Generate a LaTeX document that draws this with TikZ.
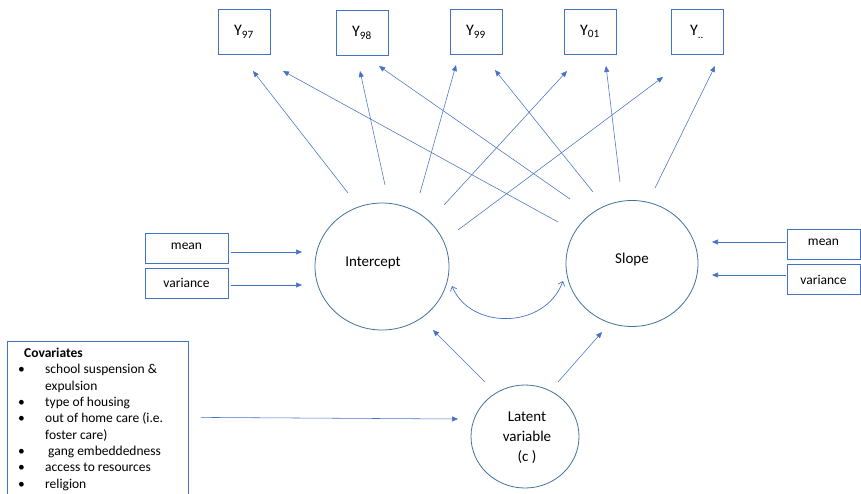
\documentclass[tikz,border=0pt]{standalone}
\usepackage{fontspec}
\setmainfont{Carlito}
\usetikzlibrary{arrows.meta,shapes.geometric}
\definecolor{lineblue}{HTML}{4472C4}
\definecolor{circblue}{HTML}{41719C}
\newcommand{\covbul}{\hspace*{3pt}\makebox[27pt][l]{\textbullet}}
\begin{document}
\begin{tikzpicture}[x=1pt,y=-1pt,
  ybox/.style={draw=lineblue,line width=0.8pt,minimum width=52pt,minimum height=45pt,inner sep=0pt,font=\fontsize{16}{18}\selectfont},
  sbox/.style={draw=lineblue,line width=0.8pt,minimum height=30pt,inner sep=0pt,font=\fontsize{13.5}{16}\selectfont},
  latent/.style={draw=circblue,line width=0.8pt,ellipse,inner sep=0pt},
  ctext/.style={font=\fontsize{15}{20}\selectfont,align=center,inner sep=0pt},
  arr/.style={draw=lineblue,line width=0.55pt,-{Triangle[length=6pt,width=5pt]}},
  dblarr/.style={draw=lineblue,line width=0.7pt,{Straight Barb[length=4pt,width=7pt]}-{Straight Barb[length=4pt,width=7pt]}},
  covstyle/.style={draw=lineblue,line width=0.8pt,inner sep=0pt,minimum width=181pt,minimum height=170pt,anchor=north west}
]
\useasboundingbox (0,0) rectangle (861,493);
\clip (0,0) rectangle (861,493);

% observed indicators
\node[ybox] (Y97) at (244,32) {Y\textsubscript{97}};
\node[ybox] (Y98) at (362,33) {Y\textsubscript{98}};
\node[ybox] (Y99) at (476,32) {Y\textsubscript{99}};
\node[ybox] (Y01) at (590,31.5) {Y\textsubscript{01}};
\node[ybox] (Ydd) at (697,32) {Y\textsubscript{..}};

% growth factors
\node[latent,minimum width=134pt,minimum height=127pt] (I) at (382,266.5) {};
\node[ctext] (Itext) at (373,263) {Intercept};
\node[latent,minimum width=132pt,minimum height=126pt] (S) at (632,263.5) {};
\node[ctext] (Stext) at (632,259) {Slope};
\node[latent,minimum width=108pt,minimum height=103pt] (L) at (525,436.5) {};
\node[ctext] (Ltext) at (527,438) {Latent\\variable\\(c )};

% mean / variance boxes
\node[sbox,minimum width=83pt] (mL) at (186.5,248) {\raisebox{4pt}{mean}};
\node[sbox,minimum width=83pt] (vL) at (186.5,283.5) {\raisebox{2pt}{variance}};
\node[sbox,minimum width=73pt] (mR) at (823.5,244) {\raisebox{3pt}{mean}};
\node[sbox,minimum width=73pt] (vR) at (823.5,279.5) {variance};

% covariates
\node[covstyle] (cov) at (7,341) {};
\node[anchor=north west,inner sep=0pt,align=left,font=\fontsize{13.5}{16.3}\selectfont] (covtext) at (15,348) {%
\hspace*{9pt}\textbf{Covariates}\\
\covbul school suspension \&\\
\hspace*{30pt}expulsion\\
\covbul type of housing\\
\covbul out of home care (i.e.\\
\hspace*{30pt}foster care)\\
\covbul\hspace*{3pt}gang embeddedness\\
\covbul access to resources\\
\covbul religion};

% intercept loadings
\draw[arr] ([shift={(-34,-73.5)}]I.center) -- ([shift={(9,39)}]Y97.center);
\draw[arr] ([shift={(3,-81.5)}]I.center) -- ([shift={(-2,38)}]Y98.center);
\draw[arr] ([shift={(38,-73.5)}]I.center) -- ([shift={(-20,33)}]Y99.center);
\draw[arr] ([shift={(62,-61.5)}]I.center) -- ([shift={(-23,39.5)}]Y01.center);
\draw[arr] ([shift={(76,-36.5)}]I.center) -- ([shift={(-34,45)}]Ydd.center);

% slope loadings
\draw[arr] ([shift={(-74,-41.5)}]S.center) -- ([shift={(39,39)}]Y97.center);
\draw[arr] ([shift={(-62,-64.5)}]S.center) -- ([shift={(17,33)}]Y98.center);
\draw[arr] ([shift={(-39,-71.5)}]S.center) -- ([shift={(19,38)}]Y99.center);
\draw[arr] ([shift={(-12,-81.5)}]S.center) -- ([shift={(16,34.5)}]Y01.center);
\draw[arr] ([shift={(23,-75.5)}]S.center) -- ([shift={(18,34)}]Ydd.center);

% latent to growth factors
\draw[arr] ([shift={(-40,-54.5)}]L.center) -- ([shift={(51,63.5)}]I.center);
\draw[arr] ([shift={(33,-54.5)}]L.center) -- ([shift={(-30,68.5)}]S.center);

% covariates to latent
\draw[arr] ([shift={(12,-9)}]cov.east) -- ([shift={(-67,-17.5)}]L.center);

% mean / variance arrows
\draw[arr] ([shift={(3,4)}]mL.east) -- ([shift={(-80,-14.5)}]I.center);
\draw[arr] ([shift={(3,1.5)}]vL.east) -- ([shift={(-80,18.5)}]I.center);
\draw[arr] ([shift={(-1,-2)}]mR.west) -- ([shift={(80,-21.5)}]S.center);
\draw[arr] ([shift={(-1,-4.5)}]vR.west) -- ([shift={(80,11.5)}]S.center);

% covariance
\draw[dblarr] ([shift={(70,19.5)}]I.center) .. controls ([shift={(88,63.5)}]I.center) and ([shift={(-87,66.5)}]S.center) .. ([shift={(-69,17.5)}]S.center);
\end{tikzpicture}
\end{document}
